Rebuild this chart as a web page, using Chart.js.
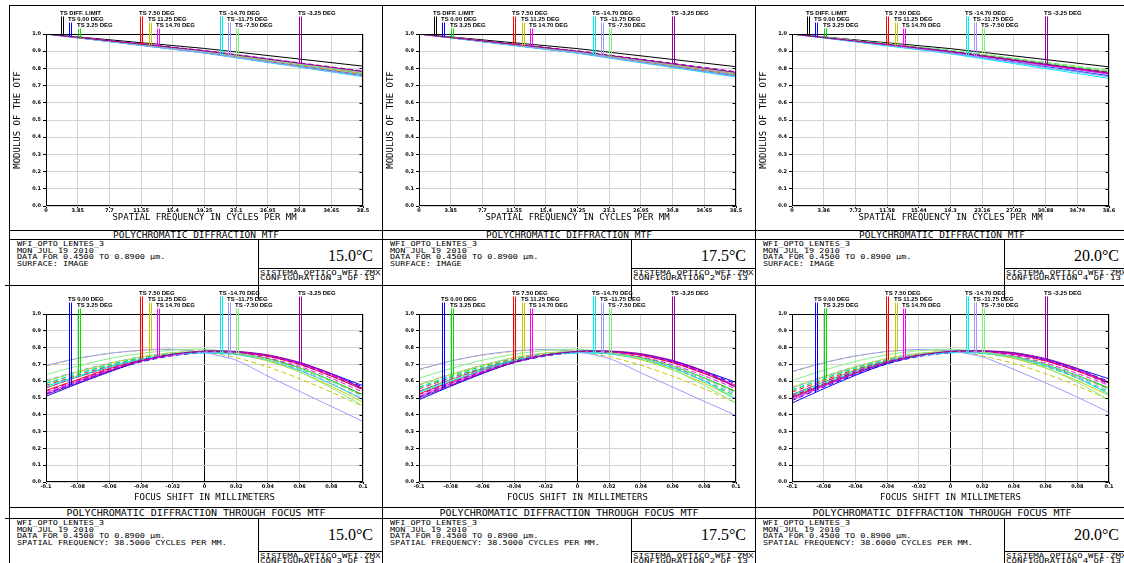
<!DOCTYPE html>
<html>
<head>
<meta charset="utf-8">
<script src="https://cdn.jsdelivr.net/npm/chart.js@4.4.1/dist/chart.umd.min.js"></script>
<style>
  html, body { margin: 0; padding: 0; background: #fff; }
  body { position: relative; width: 1124px; height: 563px; overflow: hidden; }
  .ln { position: absolute; background: #000; }
  .tx { position: absolute; white-space: pre; color: #000; font-family: "DejaVu Sans Mono", monospace; line-height: 1; }
  canvas { position: absolute; }
</style>
</head>
<body>
<script>
// ---------------- data ----------------
const fieldNames = ['0.00', '3.25', '7.50', '11.25', '14.70', '-14.70', '-11.75', '-7.50', '-3.25'];
const fieldColors = ['#0000ff', '#00dd00', '#ff0000', '#c8c800', '#ff00ff', '#00eeee', '#9a9aff', '#80ee80', '#990099'];

const yTicks = [0, 0.1, 0.2, 0.3, 0.4, 0.5, 0.6, 0.7, 0.8, 0.9, 1];
const yTickLabels = ['0.0', '0.1', '0.2', '0.3', '0.4', '0.5', '0.6', '0.7', '0.8', '0.9', '1.0'];

const freqTicks385 = [0, 3.85, 7.7, 11.55, 15.4, 19.25, 23.1, 26.95, 30.8, 34.65, 38.5];
const freqLabels385 = ['0', '3.85', '7.7', '11.55', '15.4', '19.25', '23.1', '26.95', '30.8', '34.65', '38.5'];
const freqTicks386 = [0, 3.86, 7.72, 11.58, 15.44, 19.3, 23.16, 27.02, 30.88, 34.74, 38.6];
const freqLabels386 = ['0', '3.86', '7.72', '11.58', '15.44', '19.3', '23.16', '27.02', '30.88', '34.74', '38.6'];
const focusTicks = [-0.1, -0.08, -0.06, -0.04, -0.02, 0, 0.02, 0.04, 0.06, 0.08, 0.1];
const focusLabels = ['-0.1', '-0.08', '-0.06', '-0.04', '-0.02', '0', '0.02', '0.04', '0.06', '0.08', '0.1'];

// MTF vs frequency (top row)
const freq385 = [0, 19.25, 38.5];
const freq386 = [0, 19.3, 38.6];

const diff15 = [1, 0.916, 0.813];
const tan15 = [[1, .891, .757], [1, .896, .768], [1, .894, .764], [1, .896, .767], [1, .900, .776],
               [1, .889, .752], [1, .890, .755], [1, .899, .774], [1, .902, .782]];
const sag15 = [[1, .895, .765], [1, .899, .774], [1, .898, .772], [1, .900, .776], [1, .902, .782],
               [1, .893, .760], [1, .896, .767], [1, .901, .779], [1, .904, .785]];

const diff175 = [1, 0.915, 0.810];
const tan175 = [[1, .890, .755], [1, .897, .770], [1, .893, .762], [1, .895, .765], [1, .898, .772],
                [1, .888, .750], [1, .890, .754], [1, .898, .772], [1, .900, .777]];
const sag175 = [[1, .894, .763], [1, .900, .776], [1, .897, .770], [1, .899, .774], [1, .901, .779],
                [1, .892, .758], [1, .895, .765], [1, .901, .778], [1, .902, .781]];

const diff20 = [1, 0.915, 0.809];
const tan20 = [[1, .891, .757], [1, .902, .780], [1, .896, .768], [1, .898, .772], [1, .896, .768],
               [1, .885, .742], [1, .889, .752], [1, .903, .783], [1, .898, .773]];
const sag20 = [[1, .895, .766], [1, .905, .788], [1, .900, .776], [1, .902, .780], [1, .899, .775],
               [1, .889, .752], [1, .893, .762], [1, .906, .790], [1, .900, .777]];

// through focus MTF (bottom row)
const focus = [-0.1, -0.08, -0.06, -0.04, -0.02, 0, 0.02, 0.04, 0.06, 0.08, 0.1];

const focTan15 = [
  [.51, .585, .655, .72, .76, .778, .775, .753, .71, .645, .573],
  [.56, .625, .685, .73, .76, .772, .765, .735, .68, .605, .52],
  [.545, .61, .675, .725, .758, .774, .77, .748, .70, .63, .55],
  [.60, .655, .705, .745, .77, .775, .76, .72, .655, .57, .475],
  [.53, .60, .665, .72, .755, .772, .772, .752, .705, .638, .558],
  [.57, .63, .685, .73, .76, .77, .76, .725, .665, .585, .49],
  [.694, .736, .766, .784, .79, .77, .725, .63, .54, .45, .36],
  [.64, .69, .735, .765, .785, .79, .77, .725, .655, .56, .455],
  [.52, .59, .66, .72, .76, .78, .778, .757, .712, .645, .555]];
const focSag15 = [
  [.525, .595, .66, .715, .752, .77, .77, .75, .705, .64, .565],
  [.585, .645, .70, .74, .765, .772, .76, .725, .665, .585, .49],
  [.575, .635, .69, .735, .762, .772, .762, .73, .675, .60, .515],
  [.69, .735, .765, .783, .789, .775, .74, .685, .615, .535, .45],
  [.56, .625, .68, .728, .76, .772, .765, .738, .688, .618, .535],
  [.59, .645, .695, .735, .76, .768, .758, .728, .675, .60, .51],
  [.605, .66, .708, .745, .768, .775, .762, .725, .665, .585, .495],
  [.60, .655, .705, .745, .77, .778, .765, .73, .675, .60, .51],
  [.54, .605, .67, .725, .76, .776, .772, .75, .70, .632, .55]];

const focTan175 = [
  [.49, .57, .645, .713, .757, .778, .778, .76, .72, .66, .593],
  [.54, .61, .675, .725, .758, .772, .768, .742, .69, .62, .54],
  [.525, .595, .665, .72, .756, .774, .772, .754, .71, .645, .57],
  [.58, .64, .695, .74, .768, .776, .764, .728, .667, .587, .495],
  [.51, .585, .655, .715, .753, .772, .774, .757, .715, .652, .575],
  [.534, .60, .665, .72, .755, .77, .764, .735, .68, .60, .494],
  [.671, .72, .757, .78, .789, .775, .735, .65, .565, .48, .396],
  [.618, .675, .725, .76, .783, .79, .773, .733, .668, .575, .47],
  [.50, .575, .648, .712, .755, .778, .78, .764, .724, .66, .563]];
const focSag175 = [
  [.505, .58, .65, .71, .75, .77, .772, .757, .715, .655, .585],
  [.565, .63, .69, .735, .763, .773, .764, .733, .677, .60, .51],
  [.555, .62, .68, .73, .76, .773, .765, .737, .685, .615, .535],
  [.668, .72, .755, .778, .788, .778, .746, .695, .63, .555, .47],
  [.54, .61, .67, .722, .757, .772, .768, .745, .698, .632, .555],
  [.56, .625, .68, .727, .757, .769, .762, .735, .687, .617, .53],
  [.577, .64, .695, .737, .765, .776, .766, .735, .68, .605, .52],
  [.58, .64, .695, .74, .767, .778, .768, .738, .688, .615, .53],
  [.52, .59, .658, .717, .756, .776, .775, .757, .712, .648, .565]];

const focTan20 = [
  [.47, .555, .635, .705, .753, .777, .78, .767, .73, .675, .614],
  [.52, .595, .665, .72, .756, .772, .77, .748, .70, .635, .56],
  [.505, .58, .655, .715, .754, .774, .774, .76, .72, .66, .59],
  [.56, .625, .685, .735, .766, .777, .767, .735, .678, .603, .515],
  [.49, .57, .645, .71, .751, .772, .776, .762, .725, .665, .595],
  [.515, .585, .655, .713, .752, .77, .768, .743, .693, .62, .523],
  [.658, .71, .75, .777, .789, .78, .745, .67, .59, .505, .414],
  [.604, .665, .718, .757, .782, .79, .776, .74, .68, .593, .49],
  [.50, .575, .648, .71, .754, .778, .782, .77, .735, .675, .589]];
const focSag20 = [
  [.485, .565, .64, .703, .747, .769, .774, .762, .725, .668, .60],
  [.545, .615, .68, .73, .761, .774, .767, .74, .688, .618, .53],
  [.535, .605, .67, .725, .758, .773, .768, .743, .695, .63, .555],
  [.655, .71, .75, .776, .788, .78, .752, .705, .645, .572, .49],
  [.52, .595, .66, .717, .755, .772, .771, .752, .708, .646, .575],
  [.549, .615, .675, .725, .757, .77, .765, .742, .698, .632, .55],
  [.56, .625, .685, .73, .762, .776, .77, .742, .692, .622, .54],
  [.565, .63, .688, .735, .765, .778, .771, .745, .70, .632, .55],
  [.51, .585, .655, .714, .755, .776, .778, .762, .722, .662, .582]];

// ---------------- page layout ----------------
const gridGray = '#d2d2d2';
const monoFamily = '"DejaVu Sans Mono", monospace';
Chart.defaults.font.family = '"DejaVu Sans", sans-serif';

function line(x, y, w, h) {
  const d = document.createElement('div');
  d.className = 'ln';
  d.style.left = x + 'px'; d.style.top = y + 'px';
  d.style.width = w + 'px'; d.style.height = h + 'px';
  document.body.appendChild(d);
}
function text(x, y, str, size, align, family, squash) {
  const d = document.createElement('div');
  d.className = 'tx';
  d.textContent = str;
  d.style.left = x + 'px'; d.style.top = y + 'px';
  d.style.fontSize = size + 'px';
  if (family) d.style.fontFamily = family;
  const tx = align === 'center' ? '-50%' : (align === 'right' ? '-100%' : '0');
  d.style.transform = 'translate(' + tx + ',-50%)' + (squash ? ' scaleY(' + squash + ')' : '');
  document.body.appendChild(d);
}

function zip(xs, ys) { return xs.map((x, i) => ({ x: x, y: ys[i] })); }

function curvePixel(chart, dsIndex, px) {
  const xs = chart.scales.x, ys = chart.scales.y;
  const v = xs.getValueForPixel(px);
  const d = chart.data.datasets[dsIndex].data;
  for (let i = 1; i < d.length; i++) {
    if (v <= d[i].x) {
      const f = (v - d[i - 1].x) / (d[i].x - d[i - 1].x);
      return ys.getPixelForValue(d[i - 1].y + f * (d[i].y - d[i - 1].y));
    }
  }
  return ys.getPixelForValue(d[d.length - 1].y);
}

// frame, right-hand ticks and the "TS ..." leader labels
const zemaxPlugin = {
  id: 'zemax',
  afterDraw(chart, args, opts) {
    const { ctx, chartArea: a, scales } = chart;
    ctx.save();
    ctx.setLineDash([]);
    ctx.strokeStyle = '#000';
    ctx.lineWidth = 1;
    const L = Math.round(a.left) + 0.5, R = Math.round(a.right) - 0.5;
    const T = Math.round(a.top) + 0.5, B = Math.round(a.bottom) - 0.5;
    ctx.strokeRect(L, T, R - L, B - T);
    ctx.beginPath();
    scales.y.ticks.forEach(t => {
      const y = Math.round(scales.y.getPixelForValue(t.value)) + 0.5;
      ctx.moveTo(R - 3, y); ctx.lineTo(R, y);
    });
    ctx.stroke();

    const w = a.right - a.left;
    ctx.font = 'bold 6px "Liberation Sans", sans-serif';
    ctx.textBaseline = 'middle';
    ctx.fillStyle = '#000';
    (opts.leaders || []).forEach(ld => {
      const g = Math.floor(ld.slot / 3), r = ld.slot % 3;
      const x1 = Math.round(a.left + (0.048 + 0.25 * g + 0.026 * r) * w) + 0.5;
      const ty = 8.5 + 6 * r;
      ctx.fillText(ld.label, x1 - 1.5, ty);
      ctx.strokeStyle = ld.color;
      ctx.lineWidth = 1;
      [[x1, ld.t], [x1 + 2, ld.s]].forEach(([x, idx]) => {
        ctx.beginPath();
        ctx.moveTo(x, ty + 3);
        ctx.lineTo(x, curvePixel(chart, idx, x));
        ctx.stroke();
      });
    });
    ctx.restore();
  }
};

function buildChart(o) {
  const canvas = document.createElement('canvas');
  canvas.width = 373; canvas.height = o.h;
  canvas.style.left = o.left + 'px'; canvas.style.top = o.top + 'px';
  canvas.style.width = '373px'; canvas.style.height = o.h + 'px';
  document.body.appendChild(canvas);
  const tickFont = { family: '"DejaVu Sans", sans-serif', size: 5, weight: 'bold' };
  const n = o.datasets.length;
  o.datasets.forEach((d, i) => Object.assign(d, {
    borderWidth: 1, pointRadius: 0, fill: false, tension: o.tension, order: n - i
  }));
  return new Chart(canvas, {
    type: 'line',
    data: { datasets: o.datasets },
    plugins: [zemaxPlugin],
    options: {
      responsive: false, animation: false, events: [],
      layout: { padding: { left: 0, right: 19, top: 29, bottom: 0 } },
      plugins: { legend: { display: false }, tooltip: { enabled: false }, zemax: { leaders: o.leaders } },
      scales: {
        x: {
          type: 'linear', min: o.xMin, max: o.xMax,
          afterBuildTicks: s => { s.ticks = o.xTicks.map(v => ({ value: v })); },
          afterFit: s => { s.height = o.xHeight; },
          ticks: { autoSkip: false, maxRotation: 0, minRotation: 0, padding: 0, color: '#000', font: tickFont,
                   callback: (v, i) => o.xLabels[i] },
          grid: {
            color: c => (o.zeroLine && c.tick && Math.abs(c.tick.value) < 1e-9) ? '#000' : gridGray,
            tickColor: '#000', tickLength: 2, lineWidth: 1
          },
          border: { display: false },
          title: { display: true, text: o.xTitle, color: '#000',
                   font: { family: monoFamily, size: 9 }, padding: { top: 0, bottom: o.xTitlePad } }
        },
        y: {
          min: 0, max: 1,
          afterBuildTicks: s => { s.ticks = yTicks.map(v => ({ value: v })); },
          afterFit: s => { s.width = 37; },
          ticks: { autoSkip: false, padding: 2, color: '#000', font: tickFont,
                   callback: (v, i) => yTickLabels[i] },
          grid: { color: gridGray, tickColor: '#000', tickLength: 3, lineWidth: 1 },
          border: { display: false },
          title: { display: !!o.yTitle, text: o.yTitle || '', color: '#000',
                   font: { family: monoFamily, size: 9 }, padding: { top: 3, bottom: 0 } }
        }
      }
    }
  });
}

const panels = [
  { x0: 9, temp: '15.0\u00B0C', conf: 'CONFIGURATION 3 OF 13', spatial: '38.5000',
    freq: freq385, fTicks: freqTicks385, fLabels: freqLabels385, diff: diff15, tan: tan15, sag: sag15,
    fTan: focTan15, fSag: focSag15 },
  { x0: 382, temp: '17.5\u00B0C', conf: 'CONFIGURATION 2 OF 13', spatial: '38.5000',
    freq: freq385, fTicks: freqTicks385, fLabels: freqLabels385, diff: diff175, tan: tan175, sag: sag175,
    fTan: focTan175, fSag: focSag175 },
  { x0: 755, temp: '20.0\u00B0C', conf: 'CONFIGURATION 4 OF 13', spatial: '38.6000',
    freq: freq386, fTicks: freqTicks386, fLabels: freqLabels386, diff: diff20, tan: tan20, sag: sag20,
    fTan: focTan20, fSag: focSag20 }
];

const rows = [
  { band: 230, bandH: 9, info: 239, divider: 29, title: 'POLYCHROMATIC DIFFRACTION MTF', titleSize: 9.5 },
  { band: 507, bandH: 11, info: 518, divider: 33, title: 'POLYCHROMATIC DIFFRACTION THROUGH FOCUS MTF', titleSize: 10 }
];

// frames and text boxes
line(5, 285, 4, 1);
line(5, 518, 4, 1);
panels.forEach(p => {
  const x0 = p.x0;
  line(x0, 5, 1, 558);
  line(x0, 5, 374, 1);
  line(x0, 285, 374, 1);
  rows.forEach((r, ri) => {
    line(x0, r.band, 374, 1);
    line(x0, r.band + r.bandH, 374, 1);
    line(x0 + 249, r.info, 1, 60);
    line(x0 + 249, r.info + r.divider, 125, 1);
    text(x0 + 187, r.band + r.bandH / 2 + 0.5, r.title, r.titleSize, 'center', null, 0.85);
    const last = ri === 0 ? 'SURFACE: IMAGE' : 'SPATIAL FREQUENCY: ' + p.spatial + ' CYCLES PER MM.';
    const info = ['WFI_OPTO_LENTES_3', 'MON JUL 19 2010', 'DATA FOR 0.4500 TO 0.8900 \u00B5m.', last];
    [5.2, 11.7, 18.4, 25].forEach((dy, k) => text(x0 + 8, r.info + dy, info[k], 8.5, 'left', null, 0.8));
    text(x0 + 364, r.info + 17.3, p.temp, 16, 'right', '"Liberation Serif", serif');
    text(x0 + 251, r.info + r.divider + 4.6, 'SISTEMA OPTICO WFI.ZMX', 9.1, 'left', null, 0.8);
    text(x0 + 251, r.info + r.divider + 9.8, p.conf, 9.1, 'left', null, 0.8);
  });
});

// charts
panels.forEach(p => {
  const top = [{ data: zip(p.freq, p.diff), borderColor: '#000' }];
  const leadersTop = [{ slot: 0, label: 'TS DIFF. LIMIT', color: '#000', t: 0, s: 0 }];
  fieldNames.forEach((f, i) => {
    top.push({ data: zip(p.freq, p.tan[i]), borderColor: fieldColors[i] });
    top.push({ data: zip(p.freq, p.sag[i]), borderColor: fieldColors[i], borderDash: [5, 3] });
    leadersTop.push({ slot: i + 1, label: 'TS ' + f + ' DEG', color: fieldColors[i], t: 1 + 2 * i, s: 2 + 2 * i });
  });
  buildChart({
    left: p.x0, top: 5, h: 225, datasets: top, tension: 0, leaders: leadersTop,
    xMin: 0, xMax: p.freq[p.freq.length - 1], xTicks: p.fTicks, xLabels: p.fLabels,
    xHeight: 24, xTitle: 'SPATIAL FREQUENCY IN CYCLES PER MM', xTitlePad: 6.5,
    yTitle: 'MODULUS OF THE OTF', zeroLine: false
  });

  const bottom = [];
  const leadersBottom = [];
  fieldNames.forEach((f, i) => {
    bottom.push({ data: zip(focus, p.fTan[i]), borderColor: fieldColors[i] });
    bottom.push({ data: zip(focus, p.fSag[i]), borderColor: fieldColors[i], borderDash: [5, 3] });
    leadersBottom.push({ slot: i + 1, label: 'TS ' + f + ' DEG', color: fieldColors[i], t: 2 * i, s: 2 * i + 1 });
  });
  buildChart({
    left: p.x0, top: 285, h: 222, datasets: bottom, tension: 0.25, leaders: leadersBottom,
    xMin: -0.1, xMax: 0.1, xTicks: focusTicks, xLabels: focusLabels,
    xHeight: 25, xTitle: 'FOCUS SHIFT IN MILLIMETERS', xTitlePad: 4,
    yTitle: null, zeroLine: true
  });
});
</script>
</body>
</html>
